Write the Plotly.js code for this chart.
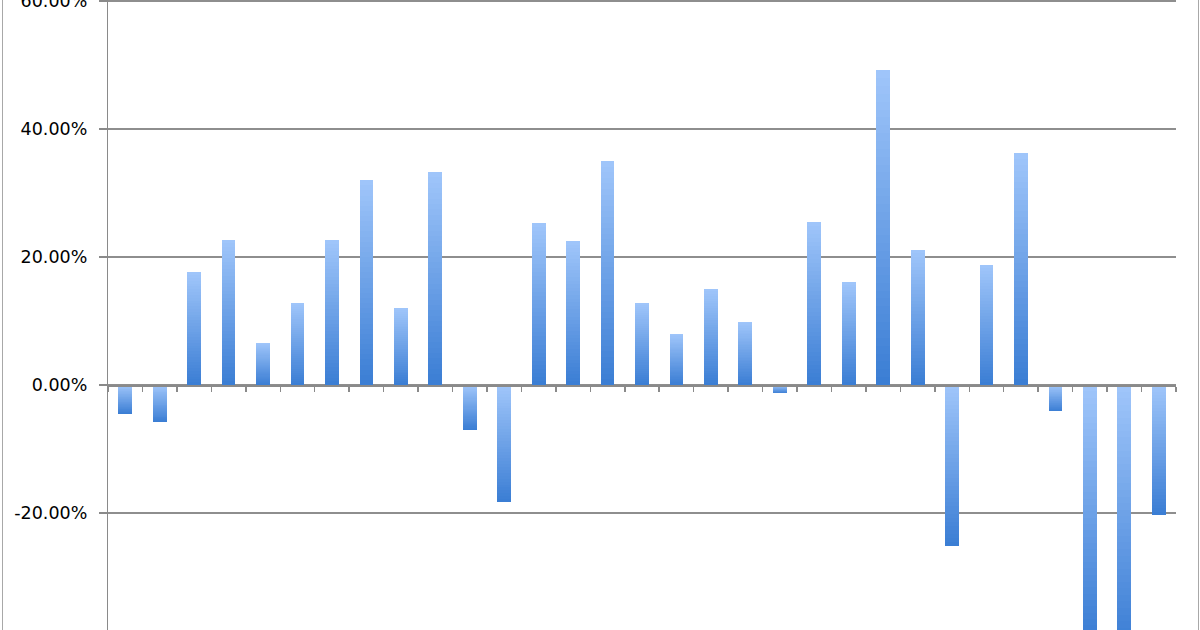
<!DOCTYPE html>
<html>
<head>
<meta charset="utf-8">
<script src="https://cdn.plot.ly/plotly-3.0.1.min.js"></script>
<style>
  html, body { margin: 0; padding: 0; background: #fff; }
  #wrap { position: relative; width: 1200px; height: 630px; overflow: hidden; }
  #chart { width: 1200px; height: 630px; }
  .frame { position: absolute; top: 0; width: 1px; height: 630px; background: #a8a8a8; }
  #chart .barlayer path { shape-rendering: crispEdges; }
</style>
</head>
<body>
<div id="wrap">
  <div id="chart"></div>
  <div class="frame" style="left:2px"></div>
  <div class="frame" style="left:1198px"></div>
</div>
<script>
// ---- data ----
const periods = ['1','2','3','4','5','6','7','8','9','10','11','12','13','14','15','16',
                 '17','18','19','20','21','22','23','24','25','26','27','28','29','30','31'];
const returnsPct = [-4.5, -5.8, 17.6, 22.7, 6.6, 12.8, 22.6, 32.0, 12.0, 33.3,
                    -7.0, -18.3, 25.3, 22.5, 35.0, 12.8, 8.0, 15.0, 9.9, -1.3,
                    25.5, 16.1, 49.2, 21.1, -25.2, 18.7, 36.2, -4.1, -39.5, -41.0, -20.3];
const tickValues = [-0.2, 0, 0.2, 0.4, 0.6];
const tickLabels = ['-20.00%', '0.00%', '20.00%', '40.00%', '60.00%'];
const yMin = -0.3828, yMax = 0.6016;

// ---- styling ----
const light = [160, 198, 250];
const dark = [58, 125, 212];
function mix(t) {
  const c = light.map((v, i) => Math.round(v + (dark[i] - v) * t));
  return 'rgb(' + c.join(',') + ')';
}
const values = returnsPct.map(v => v / 100);
const N = 40;
const traces = [];
for (let k = 0; k < N; k++) {
  const f = 1 - k / N;
  const tPos = (k + 0.5) / N;         // positive bar: tip (top) light, base dark
  const tNeg = 1 - (k + 0.5) / N;     // negative bar: base (top) light, tip dark
  traces.push({
    type: 'bar',
    x: periods,
    y: values.map(v => v * f),
    marker: { color: values.map(v => v >= 0 ? mix(tPos) : mix(tNeg)), line: { width: 0 } },
    hoverinfo: 'none',
    showlegend: false
  });
}

const zeroPos = (0 - yMin) / (yMax - yMin);

const layout = {
  width: 1200, height: 630,
  margin: { l: 108, r: 24, t: 0, b: 0, pad: 0 },
  paper_bgcolor: '#ffffff',
  plot_bgcolor: '#ffffff',
  barmode: 'overlay',
  bargap: 0.6,
  showlegend: false,
  font: { family: 'DejaVu Sans, sans-serif', size: 15, color: '#000' },
  xaxis: {
    type: 'category',
    anchor: 'free',
    position: zeroPos,
    showline: true, linecolor: '#8a8a8a', linewidth: 1.5,
    ticks: 'outside', tickson: 'boundaries', ticklen: 5, tickcolor: '#8a8a8a', tickwidth: 1.5,
    showticklabels: false, showgrid: false, zeroline: false,
    fixedrange: true
  },
  yaxis: {
    range: [yMin, yMax],
    tickvals: tickValues, ticktext: tickLabels,
    showgrid: true, gridcolor: '#8e8e8e', gridwidth: 1.2,
    zeroline: false,
    showline: true, linecolor: '#8a8a8a', linewidth: 1.2,
    ticks: 'outside', ticklen: 8, tickcolor: '#8a8a8a', tickwidth: 1.2,
    ticklabelstandoff: 8,
    ticklabeloverflow: 'allow',
    tickfont: { family: 'DejaVu Sans, sans-serif', size: 17.5, color: '#000' },
    fixedrange: true
  }
};

Plotly.newPlot('chart', traces, layout, { displayModeBar: false, staticPlot: true });
</script>
</body>
</html>
